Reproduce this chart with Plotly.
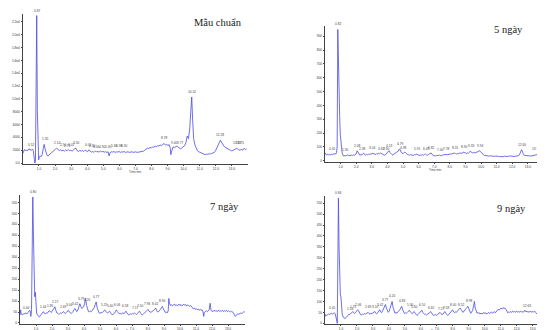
import numpy as np
import plotly.graph_objects as go

# ---------------- data ----------------
# Panel 1: Mẫu chuẩn (standard)
t_std = [0.00,0.05,0.10,0.15,0.20,0.25,0.30,0.35,0.40,0.45,0.50,0.55,0.60,0.65,0.70,0.74,0.78,0.82,0.86,0.90,0.94,0.98,
         1.02,1.08,1.14,1.20,1.26,1.32,1.38,1.44,1.50,1.56,1.62,1.70,1.78,1.86,1.94,2.02,2.10,2.18,2.26,2.34,2.42,2.50,
         2.58,2.66,2.74,2.82,2.90,2.98,3.06,3.14,3.22,3.30,3.38,3.46,3.54,3.62,3.70,3.78,3.86,3.94,4.02,4.10,4.18,4.26,
         4.34,4.42,4.50,4.58,4.66,4.74,4.82,4.90,4.98,5.06,5.14,5.22,5.30,5.36,5.42,5.50,5.58,5.66,5.74,5.82,5.90,5.98,
         6.06,6.14,6.22,6.30,6.38,6.46,6.54,6.62,6.70,6.78,6.86,6.94,7.02,7.10,7.18,7.26,7.34,7.42,7.50,7.58,7.66,7.74,
         7.82,7.90,7.98,8.06,8.14,8.22,8.30,8.38,8.46,8.54,8.62,8.70,8.78,8.86,8.94,9.02,9.10,9.16,9.20,9.26,9.34,9.42,
         9.50,9.58,9.66,9.74,9.82,9.90,9.98,10.06,10.14,10.22,10.30,10.38,10.44,10.50,10.56,10.62,10.70,10.78,10.86,
         10.94,11.02,11.10,11.18,11.26,11.34,11.42,11.50,11.58,11.66,11.74,11.82,11.90,11.98,12.06,12.14,12.22,12.28,
         12.34,12.42,12.50,12.58,12.66,12.74,12.82,12.90,12.98,13.06,13.14,13.22,13.30,13.36,13.44,13.52,13.60,13.68,
         13.76,13.84,13.92]
v_std = [1500,1900,2100,1950,2050,1900,2000,2150,2200,2000,2100,2000,2150,1900,600,0,300,9000,23000,8000,900,500,
         900,1100,1000,1300,2200,2900,2200,1500,1200,1100,1250,1400,1700,1900,2000,2150,2300,2100,1950,2050,1900,2000,
         1850,2050,1900,2100,1900,2000,1850,2000,2250,2300,1900,1800,1950,1850,1950,1800,2000,1900,1750,2050,1850,1700,
         1800,1650,1850,1750,1800,1700,1850,1750,1800,1700,1750,1650,1750,1100,1600,1750,1700,1800,1650,1750,1700,1800,
         1650,1750,1700,1800,1650,1700,1750,1650,1700,1750,1650,1700,1750,1650,1700,1750,1800,1750,1850,2000,2100,2300,
         2250,2400,2350,2500,2450,2600,2550,2700,2650,2800,2700,2900,3050,2800,2900,2750,2850,2400,1300,1900,2500,2400,
         2600,2650,2450,2350,2200,2400,2500,2700,3200,4200,3800,5500,8000,10300,6500,3800,2800,2200,1900,
         1750,1650,1500,1450,1350,1300,1400,1350,1450,1400,1500,1550,1650,1900,2300,2800,3300,3550,
         3300,2900,2650,2450,2300,2200,2100,2000,1900,1950,2050,2100,2300,2200,2000,2050,2100,2000,
         2300,2100,2200]
pk_std = [0.52,0.87,1.35,2.14,2.50,2.75,3.02,3.30,4.05,4.30,4.56,4.90,5.30,5.66,5.98,6.30,8.78,9.40,9.77,10.52,12.28,13.33,13.75]

# Panel 2: 5 ngày
t_d5 = [0.00,0.04,0.10,0.16,0.22,0.28,0.34,0.40,0.46,0.52,0.58,0.64,0.70,0.74,0.78,0.82,0.86,0.90,0.94,0.98,1.02,1.06,
        1.10,1.16,1.22,1.28,1.34,1.40,1.46,1.52,1.58,1.64,1.70,1.76,1.82,1.88,1.94,2.00,2.06,2.12,2.18,2.24,2.30,2.36,
        2.42,2.48,2.54,2.60,2.66,2.72,2.78,2.84,2.90,2.96,3.02,3.08,3.14,3.20,3.26,3.32,3.38,3.44,3.50,3.56,3.62,3.68,
        3.74,3.80,3.86,3.92,3.98,4.04,4.10,4.16,4.22,4.28,4.34,4.40,4.46,4.52,4.58,4.64,4.70,4.76,4.82,4.88,4.94,5.00,
        5.06,5.12,5.18,5.24,5.30,5.36,5.42,5.48,5.54,5.60,5.66,5.72,5.78,5.84,5.90,5.96,6.02,6.08,6.14,6.20,6.26,6.32,
        6.38,6.44,6.50,6.56,6.62,6.68,6.74,6.80,6.86,6.92,6.98,7.04,7.10,7.16,7.22,7.28,7.34,7.40,7.46,7.52,7.58,7.64,
        7.70,7.76,7.82,7.88,7.94,8.00,8.06,8.12,8.18,8.24,8.30,8.36,8.42,8.48,8.54,8.60,8.66,8.72,8.78,8.84,8.90,8.96,
        9.02,9.08,9.14,9.20,9.26,9.32,9.38,9.44,9.50,9.56,9.62,9.68,9.74,9.80,9.86,9.92,9.98,10.04,10.10,10.16,10.22,
        10.30,10.38,10.46,10.54,10.62,10.70,10.78,10.86,10.94,11.02,11.10,11.18,11.26,11.34,11.42,11.50,11.58,11.66,
        11.74,11.82,11.90,11.98,12.06,12.14,12.22,12.30,12.38,12.46,12.54,12.60,12.66,12.72,12.80,12.88,12.96,13.04,
        13.12,13.20,13.28,13.36,13.44,13.52,13.60,13.68,13.76,13.82,13.88,13.94,14.00,14.06]
v_d5 = [58,45,40,47,42,46,40,48,44,50,46,52,48,60,100,950,600,430,320,190,120,80,
        55,36,34,38,33,40,42,36,38,35,40,37,42,38,44,50,72,60,45,40,45,42,
        50,55,44,40,46,42,48,44,50,46,55,52,48,50,45,52,48,54,50,56,52,48,
        44,40,42,48,58,65,72,60,50,46,42,46,50,54,58,62,70,85,78,62,55,50,
        58,62,55,48,44,42,40,44,40,42,38,44,42,46,48,42,40,38,42,40,44,40,
        46,48,42,40,44,48,52,56,45,38,35,36,34,38,36,38,40,38,36,40,42,40,
        44,46,42,44,48,46,50,48,52,50,56,52,48,52,50,54,56,52,55,58,62,58,
        55,52,56,54,60,70,62,55,58,62,56,60,64,62,66,72,64,55,48,42,38,
        36,34,36,33,35,32,34,31,33,30,32,30,28,31,29,32,30,33,
        31,34,36,33,30,32,30,33,36,42,60,80,62,45,38,36,34,36,
        35,34,36,38,40,38,42,44,48,52,44,40,42,38]
pk_d5 = [0.45,0.82,1.30,2.08,2.38,3.04,3.62,3.90,4.13,4.79,4.98,5.91,6.45,6.82,7.40,7.78,8.31,8.90,9.33,9.94,12.60,13.79]

# Panel 3: 7 ngày
t_d7 = [0.00,0.04,0.08,0.14,0.20,0.26,0.32,0.38,0.44,0.50,0.56,0.60,0.64,0.68,0.72,0.76,0.80,0.84,0.88,0.92,0.96,1.00,
        1.04,1.10,1.16,1.22,1.28,1.34,1.40,1.46,1.52,1.58,1.64,1.70,1.76,1.82,1.88,1.94,2.00,2.06,2.12,2.18,2.24,2.30,
        2.36,2.42,2.48,2.54,2.60,2.66,2.72,2.78,2.84,2.90,2.96,3.02,3.08,3.14,3.20,3.26,3.32,3.38,3.44,3.50,3.56,3.62,
        3.68,3.74,3.80,3.86,3.92,3.98,4.04,4.10,4.16,4.22,4.28,4.34,4.40,4.46,4.52,4.58,4.64,4.70,4.76,4.82,4.88,4.94,
        5.00,5.06,5.12,5.18,5.24,5.30,5.36,5.42,5.48,5.54,5.60,5.66,5.72,5.78,5.84,5.90,5.96,6.02,6.08,6.14,6.20,6.26,
        6.32,6.38,6.44,6.50,6.56,6.62,6.68,6.74,6.80,6.86,6.92,6.98,7.04,7.10,7.16,7.22,7.28,7.34,7.40,7.46,7.52,7.58,
        7.64,7.70,7.76,7.82,7.88,7.94,8.00,8.06,8.12,8.18,8.24,8.30,8.36,8.42,8.48,8.54,8.60,8.66,8.72,8.78,8.84,8.90,
        8.96,9.02,9.08,9.14,9.20,9.26,9.30,9.34,9.40,9.46,9.52,9.58,9.64,9.70,9.76,9.82,9.88,9.94,10.00,10.06,10.12,
        10.18,10.24,10.30,10.36,10.42,10.48,10.54,10.60,10.66,10.72,10.78,10.84,10.90,10.96,11.02,11.08,11.14,11.20,
        11.26,11.32,11.38,11.44,11.48,11.52,11.58,11.64,11.70,11.76,11.82,11.88,11.94,12.00,12.06,12.12,12.18,12.24,
        12.30,12.36,12.42,12.48,12.54,12.60,12.66,12.72,12.78,12.84,12.90,12.96,13.02,13.08,13.14,13.20,13.26,13.32,
        13.38,13.44,13.50,13.56,13.62,13.68,13.74,13.80,13.86,13.92,13.98,14.04]
v_d7 = [36,60,40,38,42,40,46,44,42,48,52,58,55,30,60,300,575,400,160,120,140,80,
        45,35,30,28,35,40,48,52,44,42,46,44,50,56,54,48,52,60,70,74,58,46,
        44,40,42,46,44,50,52,46,44,48,52,58,50,46,44,48,52,62,66,56,52,60,
        72,88,76,66,70,74,90,112,80,58,52,50,55,52,58,62,70,84,96,70,52,46,
        44,48,46,52,56,60,52,48,46,50,54,46,40,36,42,44,52,60,52,46,42,44,
        40,44,46,42,48,54,46,38,36,40,42,40,44,42,46,42,38,44,48,54,46,38,
        36,40,44,48,52,58,62,54,50,48,52,54,58,62,68,56,50,52,56,62,70,76,
        64,52,48,50,46,55,112,90,80,84,78,82,86,80,84,78,82,86,80,84,78,
        82,86,80,84,78,82,80,76,80,74,68,64,68,62,66,60,64,58,
        62,58,60,50,30,48,52,56,52,56,60,90,58,52,56,54,58,52,
        56,54,58,52,56,54,58,52,56,54,58,52,56,54,50,54,52,48,
        40,30,34,38,42,40,44,46,42,48,52,50]
pk_d7 = [0.40,0.80,1.44,1.85,2.17,2.69,3.04,3.42,3.79,4.20,4.77,5.25,5.60,6.06,6.58,7.17,7.50,7.96,8.42,8.90]

# Panel 4: 9 ngày
t_d9 = [0.00,0.04,0.10,0.16,0.22,0.28,0.34,0.40,0.46,0.52,0.58,0.64,0.70,0.74,0.77,0.80,0.84,0.88,0.92,0.96,1.00,1.04,
        1.08,1.14,1.20,1.26,1.32,1.38,1.44,1.50,1.56,1.62,1.68,1.74,1.80,1.86,1.92,1.98,2.04,2.10,2.16,2.22,2.28,2.34,
        2.40,2.46,2.52,2.58,2.64,2.70,2.76,2.82,2.88,2.94,3.00,3.06,3.12,3.18,3.24,3.30,3.36,3.42,3.48,3.54,3.60,3.66,
        3.72,3.78,3.84,3.90,3.96,4.02,4.08,4.14,4.20,4.26,4.32,4.38,4.44,4.50,4.56,4.62,4.68,4.74,4.80,4.86,4.92,4.98,
        5.04,5.10,5.16,5.22,5.28,5.34,5.40,5.46,5.52,5.58,5.64,5.70,5.76,5.82,5.88,5.94,6.00,6.06,6.12,6.18,6.24,6.30,
        6.36,6.42,6.48,6.54,6.60,6.66,6.72,6.78,6.84,6.90,6.96,7.02,7.08,7.14,7.20,7.26,7.32,7.38,7.44,7.50,7.56,7.62,
        7.68,7.74,7.80,7.86,7.92,7.98,8.04,8.10,8.16,8.22,8.28,8.34,8.40,8.46,8.52,8.58,8.64,8.70,8.76,8.82,8.88,8.94,
        9.00,9.06,9.12,9.18,9.24,9.30,9.35,9.40,9.46,9.52,9.58,9.64,9.70,9.76,9.82,9.88,9.94,10.00,10.06,10.12,10.18,
        10.24,10.30,10.36,10.42,10.48,10.54,10.60,10.66,10.72,10.78,10.84,10.90,10.96,11.02,11.08,11.14,11.20,11.26,
        11.32,11.38,11.44,11.50,11.56,11.62,11.68,11.74,11.80,11.86,11.92,11.98,12.04,12.10,12.16,12.22,12.28,12.34,
        12.40,12.46,12.52,12.58,12.64,12.70,12.76,12.82,12.88,12.94,13.00,13.06,13.12,13.18,13.24,13.30,13.36,13.42,
        13.48,13.54,13.60,13.66,13.72,13.78,13.84,13.90,13.96,14.02,14.08]
v_d9 = [30,40,36,38,42,40,44,46,42,46,48,44,30,10,0,200,573,350,160,130,120,80,
        40,28,24,22,26,30,36,42,40,44,48,54,48,44,50,56,62,58,48,40,38,42,
        40,44,42,46,48,50,44,42,46,44,48,52,54,46,44,48,56,62,52,48,56,66,
        78,86,70,56,50,56,70,88,100,72,52,46,50,46,52,56,62,70,78,62,48,44,
        48,46,50,54,60,52,46,44,50,54,46,40,36,40,44,50,56,60,50,44,40,42,
        38,42,44,48,54,46,40,36,38,40,36,40,42,46,50,44,40,42,48,54,46,40,
        36,40,44,50,56,62,54,48,52,50,56,60,64,70,62,54,50,56,60,66,72,78,
        64,50,46,52,60,80,100,70,52,46,50,44,48,42,46,44,50,44,48,42,46,
        50,44,48,52,46,50,54,48,52,58,64,60,66,70,66,72,68,70,
        64,56,48,52,50,54,50,56,52,54,50,56,52,54,50,56,52,54,
        50,56,60,52,56,50,54,52,56,50,54,52,56,50,46,40,32,28,
        36,42,38,44,40,46,42,48,44,50,46]
pk_d9 = [0.45,0.84,1.54,1.75,2.06,2.69,3.10,3.42,3.77,4.20,4.83,5.30,5.60,6.10,6.65,7.27,7.58,8.00,8.52,8.98,12.63,13.79]

panel_titles = ["Mẫu chuẩn", "5 ngày", "7 ngày", "9 ngày"]
x_ticks = [1,2,3,4,5,6,7,8,9,10,11,12,13]
x_ticktext = ["1.0","2.0","3.0","4.0","5.0","6.0","7.0","8.0","9.0","10.0","11.0","12.0","13.0"]
y_ticks_std = [0,2000,4000,6000,8000,10000,12000,14000,16000,18000,20000,22000]
y_ticktext_std = ["0.0","2000","4000","6000","8000","1.0e4","1.2e4","1.4e4","1.6e4","1.8e4","2.0e4","2.2e4"]
y_ticks_d5 = [0,100,200,300,400,500,600,700,800,900]
y_ticks_d79 = [0,50,100,150,200,250,300,350,400,450,500,550]

# ---------------- layout ----------------
W, H = 545, 330
def px_x(a, b): return [a / W, b / W]
def px_y(top, bottom): return [1 - bottom / H, 1 - top / H]

panels = [
    dict(t=t_std, v=v_std, pk=pk_std, xd=px_x(14.9, 240), yd=px_y(6, 156), xr=[0, 14.0], yr=[-156, 23245],
         yt=y_ticks_std, ytt=y_ticktext_std, title=panel_titles[0], tx=210, ty=14, tshift=-11),
    dict(t=t_d5, v=v_d5, pk=pk_d5, xd=px_x(317, 537), yd=px_y(18, 154), xr=[0, 14.1], yr=[-9.4, 975],
         yt=y_ticks_d5, ytt=[str(v) for v in y_ticks_d5], title=panel_titles[1], tx=500, ty=22, tshift=-11),
    dict(t=t_d7, v=v_d7, pk=pk_d7, xd=px_x(12, 237), yd=px_y(187, 316), xr=[0, 14.06], yr=[-4.6, 584],
         yt=y_ticks_d79, ytt=[str(v) for v in y_ticks_d79], title=panel_titles[2], tx=216, ty=198, tshift=-10),
    dict(t=t_d9, v=v_d9, pk=pk_d9, xd=px_x(317, 542), yd=px_y(188, 316), xr=[0, 14.08], yr=[-3.2, 583],
         yt=y_ticks_d79, ytt=[str(v) for v in y_ticks_d79], title=panel_titles[3], tx=503, ty=200, tshift=-10),
]

fig = go.Figure()
LINE = "#4a4ae6"
AX = "#444444"
SMALL = dict(size=3.2, color="#444444", family="Arial, Liberation Sans")
annotations = []
for i, p in enumerate(panels, start=1):
    xa = "x" if i == 1 else f"x{i}"
    ya = "y" if i == 1 else f"y{i}"
    fig.add_trace(go.Scatter(x=p["t"], y=p["v"], mode="lines", xaxis=xa, yaxis=ya,
                             line=dict(color=LINE, width=0.8), showlegend=False, hoverinfo="skip"))
    axis_common = dict(showline=True, linecolor=AX, linewidth=0.8, ticks="outside", ticklen=1.5,
                       tickwidth=0.5, tickcolor=AX, showgrid=False, zeroline=False,
                       tickfont=dict(size=3.2, color="#333333", family="Arial, Liberation Sans"))
    fig.layout[f"xaxis{'' if i == 1 else i}"] = dict(domain=p["xd"], range=p["xr"], anchor=ya,
                                                   tickvals=x_ticks, ticktext=x_ticktext, **axis_common)
    fig.layout[f"yaxis{'' if i == 1 else i}"] = dict(domain=p["yd"], range=p["yr"], anchor=xa,
                                                   tickvals=p["yt"], ticktext=p["ytt"], **axis_common)
    # peak labels, placed above the local maximum of the trace around each peak time
    t_arr = np.asarray(p["t"])
    v_arr = np.asarray(p["v"])
    for tp in p["pk"]:
        near = np.abs(t_arr - tp) <= 0.05
        yp = float(v_arr[near].max()) if near.any() else float(np.interp(tp, t_arr, v_arr))
        edge = tp > 0.97 * p["xr"][1]
        annotations.append(dict(x=tp, y=yp, xref=xa, yref=ya, text=f"{tp:.2f}", showarrow=False,
                                yanchor="bottom", yshift=1, xanchor="right" if edge else "center",
                                xshift=2 if edge else 0, font=SMALL))
    # x axis title
    annotations.append(dict(x=0.5, y=0, xref=f"{xa} domain", yref=f"{ya} domain", text="Time min",
                            showarrow=False, yanchor="bottom", yshift=p["tshift"], borderpad=0,
                            font=dict(size=3, color="#444444", family="Arial, Liberation Sans")))
    # panel title
    annotations.append(dict(x=p["tx"] / W, y=1 - p["ty"] / H, xref="paper", yref="paper", text=p["title"],
                            showarrow=False, xanchor="center", yanchor="middle",
                            font=dict(size=10.5, color="#222222", family="Liberation Serif, Times New Roman, serif")))

fig.update_layout(width=W, height=H, margin=dict(l=0, r=0, t=0, b=0),
                  paper_bgcolor="white", plot_bgcolor="white", annotations=annotations)
fig.write_html("out.html")
